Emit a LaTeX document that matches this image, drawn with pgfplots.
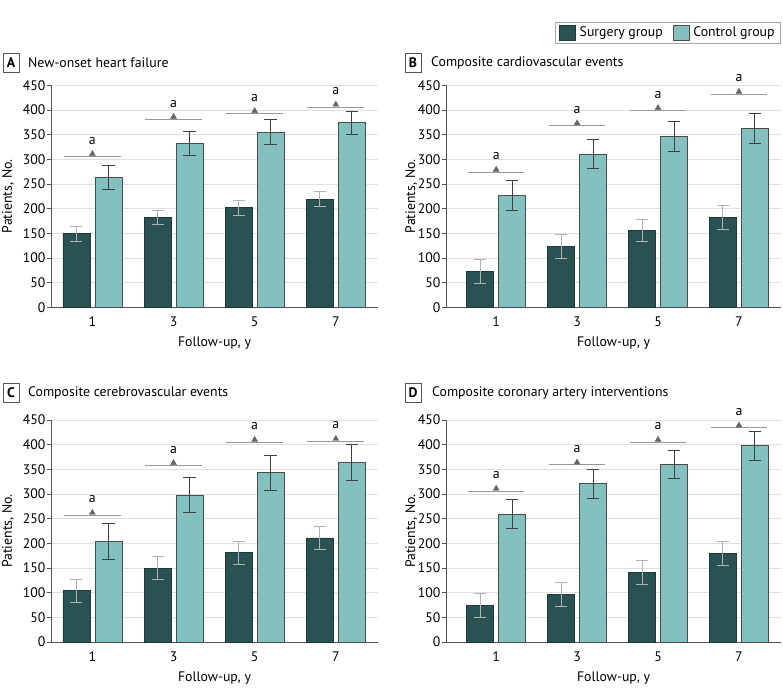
\documentclass[border=0pt]{standalone}
\usepackage{pgfplots}
\pgfplotsset{compat=1.18}
\usepackage{fontspec}
\setmainfont{PT Sans}
\newcommand\fnt{\fontsize{13.8pt}{16pt}\selectfont}
\definecolor{surg}{HTML}{2B5253}
\definecolor{ctrl}{HTML}{82C1C0}
\definecolor{axc}{HTML}{555555}
\definecolor{sigc}{HTML}{999999}
\definecolor{triC}{HTML}{666666}
\pgfplotsset{
  panel/.style={
    scale only axis, clip=false,
    ymin=0, ymax=450, ytick={0,50,...,450},
    xtick={1,2,3,4}, xticklabels={1,3,5,7},
    axis x line*=bottom, axis y line*=left,
    axis line style={axc, line width=0.8pt},
    ymajorgrids, grid style={gray!25, line width=0.8pt},
    major tick length=4pt, tick align=outside,
    xtick style={draw=none}, ytick style={axc, line width=0.8pt},
    /pgf/number format/assume math mode=true,
    tick label style={font=\fnt, text=black},
    yticklabel style={xshift=2pt},
    label style={font=\fnt},
    xticklabel style={yshift=-2pt},
    xlabel={Follow-up, y}, ylabel={Patients, No.},
    legend style={font=\fnt},
  },
  sbar/.style={/pgfplots/ybar, /pgfplots/bar width=27pt, /pgfplots/bar shift=-16pt, fill=surg, draw=surg!70!black, line width=0.6pt,
    /pgfplots/legend image code/.code={\draw[fill=surg, draw=surg!70!black, line width=0.6pt] (0pt,-7.5pt) rectangle (16pt,7.5pt);},
    /pgfplots/error bars/.cd, y dir=both, y explicit,
    error bar style={color=gray!60, line width=0.9pt},
    error mark options={rotate=90, mark size=6pt, color=gray!60, line width=0.9pt}},
  cbar/.style={/pgfplots/ybar, /pgfplots/bar width=27pt, /pgfplots/bar shift=16pt, fill=ctrl, draw=gray!60!black, line width=0.6pt,
    /pgfplots/legend image code/.code={\draw[fill=ctrl, draw=gray!60!black, line width=0.6pt] (0pt,-7.5pt) rectangle (16pt,7.5pt);},
    /pgfplots/error bars/.cd, y dir=both, y explicit,
    error bar style={color=black!75, line width=0.9pt},
    error mark options={rotate=90, mark size=6.3pt, color=black!75, line width=0.9pt}},
  sigl/.style={sigc, line width=0.9pt, forget plot},
  tri/.style={only marks, mark=triangle*, mark size=3.4pt, color=triC, forget plot},
}
\begin{document}
\begin{tikzpicture}[x=1pt,y=1pt]
\path[use as bounding box] (0,0) rectangle (783,697);

% ---------- Panel A ----------
\begin{axis}[panel, at={(51pt,389.7pt)}, anchor=south west, width=327pt, height=222pt,
  xmin=0.49, xmax=4.52,
  ylabel style={at={(axis description cs:-0.1315,0.5)}, anchor=center},
  xlabel style={at={(axis description cs:0.5,-0.162)}, anchor=center}]
\addplot[sbar] coordinates {(1,149) +- (0,15) (2,182) +- (0,15) (3,202) +- (0,15) (4,219) +- (0,15)};
\addplot[cbar] coordinates {(1,263) +- (0,24) (2,332) +- (0,24) (3,355) +- (0,25) (4,374) +- (0,24)};
\addplot[sigl] coordinates {(0.65,306) (1.35,306)};
\addplot[sigl] coordinates {(1.65,381) (2.35,381)};
\addplot[sigl] coordinates {(2.65,393) (3.35,393)};
\addplot[sigl] coordinates {(3.65,406) (4.35,406)};
\addplot[tri] coordinates {(1,311) (2,386) (3,398) (4,411)};
\node[font=\fnt] at (axis cs:1,338) {a};
\node[font=\fnt] at (axis cs:2,413) {a};
\node[font=\fnt] at (axis cs:3,425) {a};
\node[font=\fnt] at (axis cs:4,438) {a};
\end{axis}

% ---------- Panel B ----------
\begin{axis}[panel, at={(446pt,389.7pt)}, anchor=south west, width=335pt, height=222pt,
  xmin=0.38, xmax=4.52,
  ylabel style={at={(axis description cs:-0.104,0.5)}, anchor=center},
  xlabel style={at={(axis description cs:0.5,-0.162)}, anchor=center},
  legend columns=2,
  legend style={at={(1,1.186)}, anchor=south east, draw=gray!70, line width=0.8pt,
    inner xsep=4pt, inner ysep=3pt,
    /tikz/every odd column/.append style={column sep=2pt},
    /tikz/every even column/.append style={column sep=8pt}},
  legend cell align=left]
\addplot[sbar] coordinates {(1,72) +- (0,24) (2,124) +- (0,24) (3,156) +- (0,23) (4,182) +- (0,24)};
\addlegendentry{Surgery group}
\addplot[cbar] coordinates {(1,227) +- (0,30) (2,311) +- (0,30) (3,346) +- (0,30) (4,362) +- (0,30)};
\addlegendentry{Control group}
\addplot[sigl] coordinates {(0.65,274) (1.35,274)};
\addplot[sigl] coordinates {(1.65,368) (2.35,368)};
\addplot[sigl] coordinates {(2.65,399) (3.35,399)};
\addplot[sigl] coordinates {(3.65,432) (4.35,432)};
\addplot[tri] coordinates {(1,279) (2,373) (3,404) (4,437)};
\node[font=\fnt] at (axis cs:1,306) {a};
\node[font=\fnt] at (axis cs:2,400) {a};
\node[font=\fnt] at (axis cs:3,431) {a};
\node[font=\fnt] at (axis cs:4,464) {a};
\end{axis}

% ---------- Panel C ----------
\begin{axis}[panel, at={(51pt,55pt)}, anchor=south west, width=327pt, height=222pt,
  xmin=0.49, xmax=4.52,
  ylabel style={at={(axis description cs:-0.1315,0.5)}, anchor=center},
  xlabel style={at={(axis description cs:0.5,-0.162)}, anchor=center}]
\addplot[sbar] coordinates {(1,104) +- (0,23) (2,150) +- (0,23) (3,181) +- (0,23) (4,211) +- (0,23)};
\addplot[cbar] coordinates {(1,204) +- (0,36) (2,298) +- (0,36) (3,343) +- (0,36) (4,364) +- (0,36)};
\addplot[sigl] coordinates {(0.65,257) (1.35,257)};
\addplot[sigl] coordinates {(1.65,358) (2.35,358)};
\addplot[sigl] coordinates {(2.65,405) (3.35,405)};
\addplot[sigl] coordinates {(3.65,407) (4.35,407)};
\addplot[tri] coordinates {(1,262) (2,363) (3,410) (4,412)};
\node[font=\fnt] at (axis cs:1,289) {a};
\node[font=\fnt] at (axis cs:2,390) {a};
\node[font=\fnt] at (axis cs:3,437) {a};
\node[font=\fnt] at (axis cs:4,439) {a};
\end{axis}

% ---------- Panel D ----------
\begin{axis}[panel, at={(446pt,55pt)}, anchor=south west, width=335pt, height=222pt,
  xmin=0.38, xmax=4.52,
  ylabel style={at={(axis description cs:-0.104,0.5)}, anchor=center},
  xlabel style={at={(axis description cs:0.5,-0.162)}, anchor=center}]
\addplot[sbar] coordinates {(1,74) +- (0,24) (2,96) +- (0,24) (3,141) +- (0,24) (4,180) +- (0,24)};
\addplot[cbar] coordinates {(1,259) +- (0,29) (2,321) +- (0,29) (3,360) +- (0,29) (4,398) +- (0,29)};
\addplot[sigl] coordinates {(0.65,306) (1.35,306)};
\addplot[sigl] coordinates {(1.65,359) (2.35,359)};
\addplot[sigl] coordinates {(2.65,405) (3.35,405)};
\addplot[sigl] coordinates {(3.65,434) (4.35,434)};
\addplot[tri] coordinates {(1,311) (2,364) (3,410) (4,439)};
\node[font=\fnt] at (axis cs:1,338) {a};
\node[font=\fnt] at (axis cs:2,391) {a};
\node[font=\fnt] at (axis cs:3,437) {a};
\node[font=\fnt] at (axis cs:4,466) {a};
\end{axis}

% ---------- Panel titles ----------
\tikzset{pbox/.style={draw=axc, line width=0.8pt, minimum width=16pt, minimum height=19pt, inner sep=0pt, font=\fnt\bfseries}}
\node[pbox] at (11,634.5) {A};
\node[anchor=west, font=\fnt, inner sep=0pt] at (28,634.5) {New-onset heart failure};
\node[pbox] at (413,634) {B};
\node[anchor=west, font=\fnt, inner sep=0pt] at (431,634) {Composite cardiovascular events};
\node[pbox] at (11,304.5) {C};
\node[anchor=west, font=\fnt, inner sep=0pt] at (28,304.5) {Composite cerebrovascular events};
\node[pbox] at (413,304.5) {D};
\node[anchor=west, font=\fnt, inner sep=0pt] at (432,304.5) {Composite coronary artery interventions};
\end{tikzpicture}
\end{document}
